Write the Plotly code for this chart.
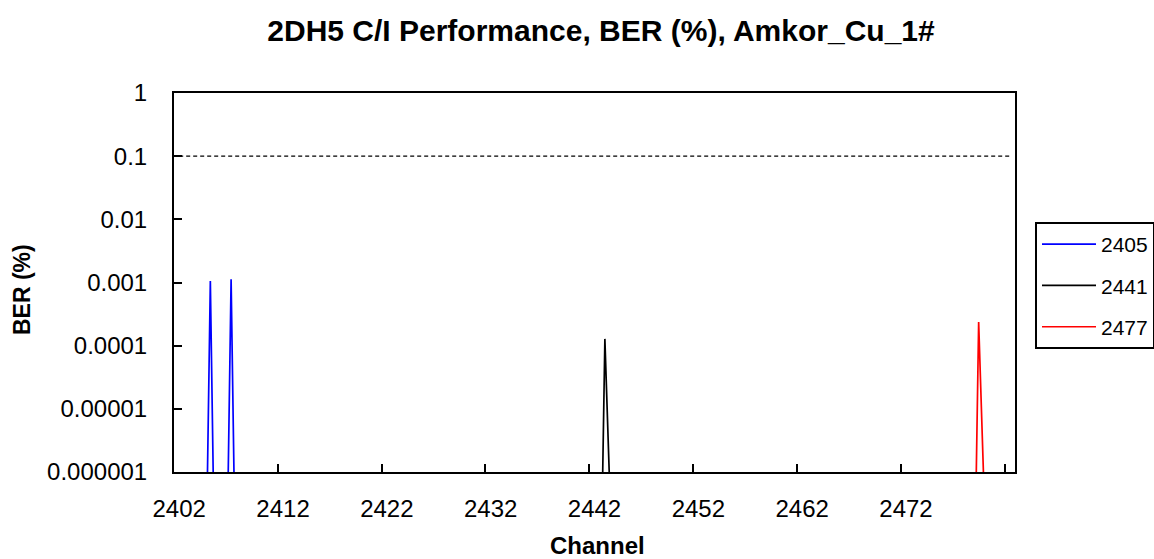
import plotly.graph_objects as go

# Interferer channel sweep (MHz)
channels = list(range(2402, 2483))

# Measured BER (%) per wanted channel; channels not listed showed no bit errors
err_ch_2405 = [2405, 2407]
err_ber_2405 = [1.06e-3, 1.13e-3]
err_ch_2441 = [2443]
err_ber_2441 = [1.28e-4]
err_ch_2477 = [2479]
err_ber_2477 = [2.37e-4]

# Pass/fail limit
limit_ber = 0.1

y_tick_vals = [1, 0.1, 0.01, 0.001, 0.0001, 0.00001, 0.000001]
y_tick_text = ["1", "0.1", "0.01", "0.001", "0.0001", "0.00001", "0.000001"]
x_tick_labels = ["2402", "2412", "2422", "2432", "2442", "2452", "2462", "2472", "2482"]
x_tick_text = ["2402", "2412", "2422", "2432", "2442", "2452", "2462", "2472", ""]

# A zero BER cannot sit on a log axis; plot it far below the visible range
ZERO_FLOOR = 1e-14


def full_series(err_ch, err_ber):
    lookup = dict(zip(err_ch, err_ber))
    return [lookup.get(c, 0) or ZERO_FLOOR for c in channels]


x_cat = [str(c) for c in channels]
FONT = "Liberation Sans, Arial, sans-serif"

fig = go.Figure()

fig.add_trace(go.Scatter(
    x=x_cat, y=[limit_ber] * len(channels), mode="lines",
    line=dict(color="black", width=1.3, dash="4px,3px"),
    showlegend=False, hoverinfo="skip",
))

series = [
    ("2405", err_ch_2405, err_ber_2405, "#0000FF"),
    ("2441", err_ch_2441, err_ber_2441, "#000000"),
    ("2477", err_ch_2477, err_ber_2477, "#FF0000"),
]
for name, ch, ber, color in series:
    fig.add_trace(go.Scatter(
        x=x_cat, y=full_series(ch, ber), mode="lines", name=name,
        legendgroup=name,
        line=dict(color=color, width=1.7),
    ))

fig.update_layout(
    width=1154, height=559,
    margin=dict(l=174, r=139, t=93, b=87, autoexpand=False),
    paper_bgcolor="white", plot_bgcolor="white",
    font=dict(family=FONT, color="black"),
    title=dict(
        text="<b>2DH5 C/I Performance, BER (%), Amkor_Cu_1#</b>",
        font=dict(size=30, family=FONT, color="black"),
        x=601 / 1154, xref="container", xanchor="center",
        y=1 - 30 / 559, yref="container", yanchor="middle",
    ),
    xaxis=dict(
        type="category", range=[-0.5, len(channels) - 0.5],
        tickmode="array", tickvals=x_tick_labels, ticktext=x_tick_text,
        tickson="boundaries", tickangle=0,
        ticks="inside", ticklen=8, tickwidth=1.5, tickcolor="black",
        showline=True, linewidth=2, linecolor="black", mirror=True,
        showgrid=False, zeroline=False,
        tickfont=dict(size=24, family=FONT, color="black"),
        ticklabelstandoff=14,
    ),
    yaxis=dict(
        type="log", range=[-6, 0],
        tickmode="array", tickvals=y_tick_vals, ticktext=y_tick_text,
        ticks="inside", ticklen=8, tickwidth=1.5, tickcolor="black",
        showline=True, linewidth=2, linecolor="black", mirror=True,
        showgrid=False, zeroline=False,
        tickfont=dict(size=24, family=FONT, color="black"),
        ticklabelstandoff=20,
    ),
    legend=dict(
        x=(1035 - 174) / 841, y=(472 - 222) / 379,
        xanchor="left", yanchor="top",
        bordercolor="black", borderwidth=2, bgcolor="white",
        font=dict(size=21, family=FONT, color="black"),
        traceorder="grouped", tracegroupgap=11, itemwidth=54,
    ),
    annotations=[
        dict(text="<b>Channel</b>", xref="paper", yref="paper",
             x=(597 - 174) / 841, y=-(545 - 472) / 379,
             xanchor="center", yanchor="middle", showarrow=False,
             font=dict(size=24, family=FONT, color="black")),
        dict(text="<b>BER (%)</b>", xref="paper", yref="paper",
             x=(22 - 174) / 841, y=(472 - 290) / 379,
             xanchor="center", yanchor="middle", showarrow=False,
             textangle=-90,
             font=dict(size=23, family=FONT, color="black")),
    ],
)

fig.write_html("out.html")
